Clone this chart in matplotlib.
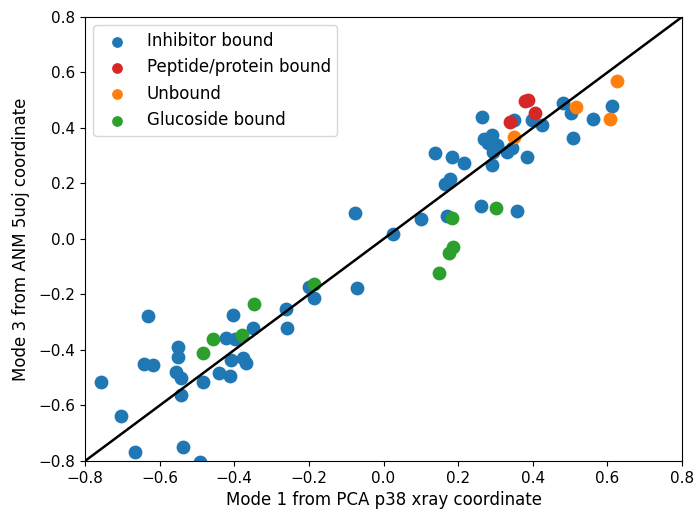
import numpy as np
import matplotlib
matplotlib.use("Agg")
import matplotlib.pyplot as plt


# Points, grouped by ligand state
inhibitor_x = [-0.757, -0.704, -0.666, -0.631, -0.642, -0.618, -0.551, -0.551, -0.556, -0.543,
               -0.543, -0.537, -0.492, -0.484, -0.441, -0.411, -0.422, -0.398, -0.403, -0.409,
               -0.377, -0.369, -0.350, -0.261, -0.259, -0.200, -0.186, -0.071, -0.076, 0.025,
               0.101, 0.170, 0.261, 0.358, 0.138, 0.184, 0.216, 0.165, 0.178, 0.291,
               0.264, 0.269, 0.291, 0.280, 0.304, 0.293, 0.331, 0.344, 0.385, 0.350,
               0.398, 0.425, 0.481, 0.503, 0.562, 0.612, 0.508]
inhibitor_y = [-0.515, -0.638, -0.768, -0.277, -0.450, -0.454, -0.389, -0.425, -0.479, -0.501,
               -0.562, -0.750, -0.804, -0.515, -0.483, -0.494, -0.357, -0.360, -0.274, -0.436,
               -0.429, -0.447, -0.321, -0.252, -0.321, -0.173, -0.213, -0.177, 0.094, 0.018,
               0.072, 0.083, 0.119, 0.101, 0.310, 0.295, 0.274, 0.198, 0.216, 0.267,
               0.440, 0.360, 0.375, 0.346, 0.339, 0.314, 0.314, 0.328, 0.295, 0.429,
               0.429, 0.411, 0.490, 0.454, 0.432, 0.479, 0.364]

peptide_x = [0.379, 0.387, 0.406, 0.339]
peptide_y = [0.497, 0.501, 0.454, 0.422]

unbound_x = [0.626, 0.516, 0.607, 0.350]
unbound_y = [0.569, 0.476, 0.432, 0.368]

glucoside_x = [-0.484, -0.457, -0.379, -0.347, -0.186, 0.149, 0.176, 0.186, 0.184, 0.302]
glucoside_y = [-0.411, -0.360, -0.346, -0.234, -0.162, -0.123, -0.050, -0.029, 0.076, 0.112]


fig = plt.figure(figsize=(6.94, 5.13), dpi=100)
ax = fig.add_axes([0.1225, 0.1014, 0.8602, 0.8655])

ax.scatter(inhibitor_x, inhibitor_y, s=80, color='tab:blue', label='Inhibitor bound')
ax.scatter(peptide_x, peptide_y, s=80, color='tab:red', label='Peptide/protein bound')
ax.scatter(unbound_x, unbound_y, s=80, color='tab:orange', label='Unbound')
ax.scatter(glucoside_x, glucoside_y, s=80, color='tab:green', label='Glucoside bound')

ax.plot([-0.8, 0.8], [-0.8, 0.8], color='black', linewidth=1.8)

ax.set_xlim(-0.8, 0.8)
ax.set_ylim(-0.8, 0.8)
ax.set_xticks(np.arange(-0.8, 0.81, 0.2))
ax.set_yticks(np.arange(-0.8, 0.81, 0.2))
ax.tick_params(labelsize=11)

ax.set_xlabel('Mode 1 from PCA p38 xray coordinate', fontsize=12)
ax.set_ylabel('Mode 3 from ANM 5uoj coordinate', fontsize=12, labelpad=6)

ax.legend(loc='upper left', markerscale=0.75, fontsize=12)

fig.savefig('out.png', dpi=100)
